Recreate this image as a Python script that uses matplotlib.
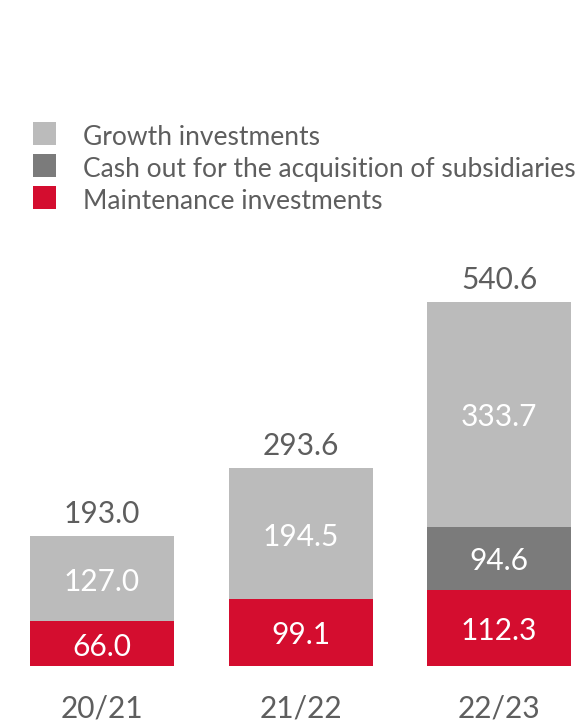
import matplotlib
matplotlib.use("Agg")
import matplotlib.pyplot as plt
from matplotlib.patches import Rectangle
import numpy as np

categories = ["20/21", "21/22", "22/23"]
maintenance = [66.0, 99.1, 112.3]
acquisition = [0.0, 0.0, 94.6]
growth = [127.0, 194.5, 333.7]
totals = [193.0, 293.6, 540.6]
series_names = ["Growth investments",
                "Cash out for the acquisition of subsidiaries",
                "Maintenance investments"]

RED = "#D40D2F"
DARK = "#7B7B7B"
LIGHT = "#BBBBBB"
TEXT = "#5E5E5E"
FONT = ["Lato", "DejaVu Sans"]

W, H, DPI = 585, 724, 100
fig = plt.figure(figsize=(W / DPI, H / DPI), dpi=DPI)
ax = fig.add_axes([0, 0, 1, 1])
ax.set_axis_off()

# scales: bar centres at px 102 / 301 / 499, baseline at 665.7 px from top,
# 540.6 -> 363.4 px
px_per_x = 198.5
x0 = 102
ax.set_xlim(-x0 / px_per_x, (W - x0) / px_per_x)
px_per_y = 363.4 / 540.6
base = H - 665.7
ax.set_ylim(-base / px_per_y, (H - base) / px_per_y)

x = np.arange(len(categories))
width = 144 / px_per_x
m = np.array(maintenance)
a = np.array(acquisition)
g = np.array(growth)

ax.bar(x, m, width, color=RED, linewidth=0)
ax.bar(x, a, width, bottom=m, color=DARK, linewidth=0)
ax.bar(x, g, width, bottom=m + a, color=LIGHT, linewidth=0)

pt = 72 / DPI  # points per pixel
NUM = 21.5

def seg_label(xi, bottom, h):
    if h <= 0:
        return
    ax.annotate(f"{h:.1f}", xy=(xi, bottom + h / 2), xytext=(0, -12 * pt),
                textcoords="offset points", ha="center", va="baseline",
                color="white", fontsize=NUM, family=FONT)

for i in range(len(x)):
    seg_label(x[i], 0, m[i])
    seg_label(x[i], m[i], a[i])
    seg_label(x[i], m[i] + a[i], g[i])
    ax.annotate(f"{totals[i]:.1f}", xy=(x[i], m[i] + a[i] + g[i]),
                xytext=(0, 13 * pt), textcoords="offset points",
                ha="center", va="baseline", color=TEXT, fontsize=NUM, family=FONT)
    ax.annotate(categories[i], xy=(x[i], 0), xytext=(0, -52 * pt),
                textcoords="offset points", ha="center", va="baseline",
                color=TEXT, fontsize=NUM, family=FONT)

# legend (manual, in figure pixels)
colors = [LIGHT, DARK, RED]
row_centres = [133.7, 165.5, 197.5]
for name, c, yc in zip(series_names, colors, row_centres):
    fig.patches.append(Rectangle((33 / W, 1 - (yc + 11.5) / H), 23 / W, 23 / H,
                                 transform=fig.transFigure, facecolor=c,
                                 edgecolor="none"))
    fig.text(83 / W, 1 - (yc + 11.3) / H, name, ha="left", va="baseline",
             color=TEXT, fontsize=19.0, family=FONT)

fig.savefig("out.png", dpi=DPI)
